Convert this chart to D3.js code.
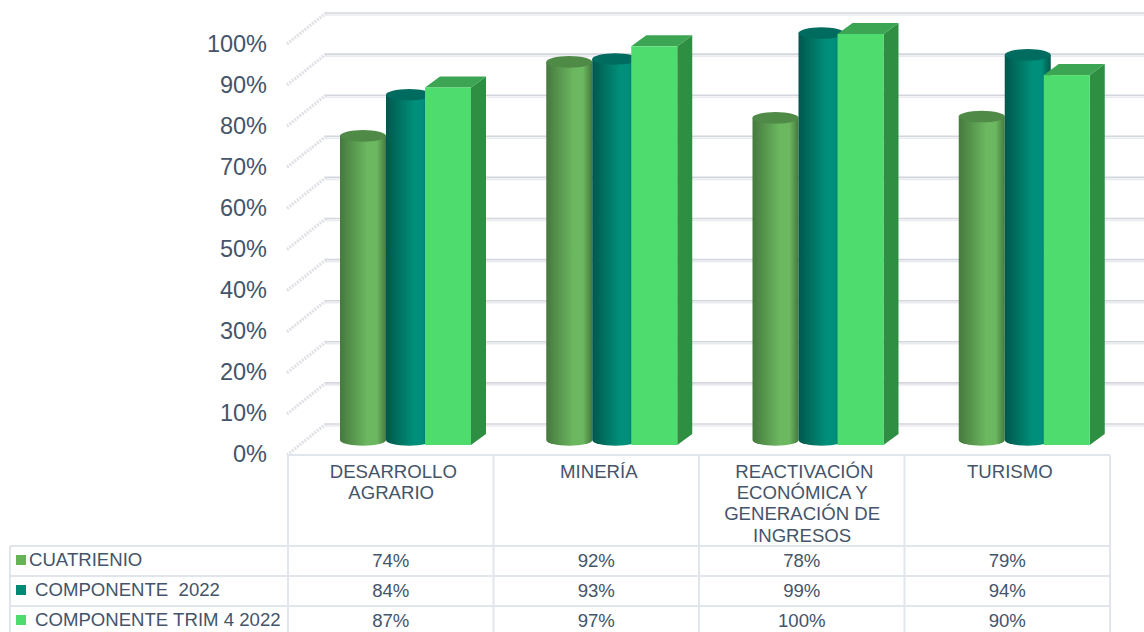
<!DOCTYPE html>
<html><head><meta charset="utf-8">
<script src="https://cdnjs.cloudflare.com/ajax/libs/d3/7.8.5/d3.min.js"></script>
<style>html,body{margin:0;padding:0;background:#fff;overflow:hidden}svg{display:block}text{font-family:"Liberation Sans",Arial,sans-serif;fill:#44546a;white-space:pre}</style>
</head><body><svg id="c" width="1144" height="632"></svg>
<script>
const categories = ["DESARROLLO AGRARIO","MINERÍA","REACTIVACIÓN ECONÓMICA Y GENERACIÓN DE INGRESOS","TURISMO"];
const categoryLines = [["DESARROLLO","AGRARIO"],["MINERÍA"],["REACTIVACIÓN","ECONÓMICA Y","GENERACIÓN DE","INGRESOS"],["TURISMO"]];
const seriesNames = ["CUATRIENIO","COMPONENTE  2022","COMPONENTE TRIM 4 2022"];
const cuatrienio = [74,92,78.4,78.7];
const componente2022 = [84,92.7,99,93.7];
const componenteTrim4 = [87,97,100,90];
const tickValues = [0,10,20,30,40,50,60,70,80,90,100];

const svg = d3.select("#c");
const defs = svg.append("defs");
function grad(id, edge, mid){
  const g = defs.append("linearGradient").attr("id",id).attr("x1",0).attr("x2",1).attr("y1",0).attr("y2",0);
  [[0,edge],[.6,mid],[.8,mid],[1,edge]].forEach(s=>g.append("stop").attr("offset",s[0]).attr("stop-color",s[1]));
}
grad("gGreen","#45793e","#6cb860");
grad("gTeal","#00574c","#008f7a");
const blur = (id,s)=>defs.append("filter").attr("id",id).attr("x","-10%").attr("y","-10%").attr("width","120%").attr("height","120%")
  .append("feGaussianBlur").attr("stdDeviation",s);
blur("soft",0.7);
blur("softer",0.45);

const x = d3.scaleBand().domain(categories).range([288,1113]);
const xTable = d3.scaleBand().domain(categories).range([288,1110]);
const yFront = d3.scaleLinear().domain([0,100]).range([445,34]);
const yCyl = d3.scaleLinear().domain([0,100]).range([440,29]);
const yWall = d3.scaleLinear().domain([0,100]).range([425,14]);
const yLabel = d3.scaleLinear().domain([0,100]).range([454,44]);
const lineCol = "#e1e5ec";
const pct = v => d3.format(".0f")(v)+"%";

// walls
const wall = svg.append("g").attr("filter","url(#soft)");
const diag = svg.append("g").attr("filter","url(#softer)");
tickValues.forEach(t=>{
  const y = yWall(t);
  wall.append("line").attr("x1",325).attr("x2",1144).attr("y1",y-1).attr("y2",y-1).attr("stroke","#d3d6dd").attr("stroke-width",1.6);
  wall.append("line").attr("x1",325).attr("x2",1144).attr("y1",y+1).attr("y2",y+1).attr("stroke","#e9ebf0").attr("stroke-width",1.6);
  diag.append("line").attr("x1",287).attr("x2",326).attr("y1",y+30).attr("y2",y-1).attr("stroke","#dfe1e6").attr("stroke-width",3.2).attr("stroke-dasharray","2 1.2");
});

// axis labels
const axis = d3.axisLeft(yLabel).tickValues(tickValues).tickSize(0).tickPadding(0).tickFormat(d=>d+"%");
const ag = svg.append("g").attr("transform","translate(267,0)").call(axis);
ag.select(".domain").remove();
ag.selectAll("text").attr("font-size",23.5).style("font-family",'"Liberation Sans",Arial,sans-serif').attr("fill","#44546a");

// table
const rowY = d3.scaleBand().domain(seriesNames).range([546,636]);
const t = svg.append("g");
const edges = categories.map(c=>xTable(c)).concat(xTable.range()[1]);
edges.forEach(e=>t.append("line").attr("x1",e).attr("x2",e).attr("y1",455).attr("y2",632).attr("stroke",lineCol).attr("stroke-width",2));
t.append("line").attr("x1",10).attr("x2",10).attr("y1",546).attr("y2",632).attr("stroke",lineCol).attr("stroke-width",2);
t.append("line").attr("x1",288).attr("x2",1110).attr("y1",455).attr("y2",455).attr("stroke",lineCol).attr("stroke-width",2);
seriesNames.forEach(s=>t.append("line").attr("x1",10).attr("x2",1110).attr("y1",rowY(s)).attr("y2",rowY(s)).attr("stroke",lineCol).attr("stroke-width",2));

// bars
const marks = svg.append("g").attr("filter","url(#soft)");
function cyl(cx, v, fill, topFill){
  const w=46, rx=w/2, ry=5.8, yt=yCyl(v), yb=yCyl(0);
  marks.append("path").attr("d",`M${cx},${yt}V${yb}A${rx},${ry} 0 0 0 ${cx+w},${yb}V${yt}Z`).attr("fill",fill);
  marks.append("ellipse").attr("cx",cx+rx).attr("cy",yt).attr("rx",rx).attr("ry",ry).attr("fill",topFill);
}
function box(bx, v){
  const w=46, dx=15, dy=11, yt=yFront(v), yb=yFront(0);
  marks.append("path").attr("d",`M${bx+w},${yt}l${dx},${-dy}V${yb-dy}l${-dx},${dy}Z`).attr("fill","#2f8f43");
  marks.append("path").attr("d",`M${bx},${yt}l${dx},${-dy}h${w}l${-dx},${dy}Z`).attr("fill","#3aa552");
  marks.append("rect").attr("x",bx).attr("y",yt).attr("width",w).attr("height",yb-yt).attr("fill","#4fdc6e");
}
categories.forEach((c,i)=>{
  const b = x(c);
  cyl(b+52, cuatrienio[i], "url(#gGreen)", "#4f8a47");
  cyl(b+98, componente2022[i], "url(#gTeal)", "#006c5f");
  box(b+137, componenteTrim4[i]);
});

// category labels
const tf = 18.6;
categories.forEach((c,i)=>{
  categoryLines[i].forEach((ln,j)=>{
    t.append("text").attr("x",xTable(c)+xTable.bandwidth()/2+(j===0?2.6:0.4)).attr("y",471+j*21.4).attr("dy","0.35em")
      .attr("text-anchor","middle").attr("font-size",tf).text(ln);
  });
});
// table rows
const legendColors = ["#66b257","#008a76","#4fdc6e"];
const legendX = [29,35,35];
const rows = [cuatrienio,componente2022,componenteTrim4];
seriesNames.forEach((s,r)=>{
  const yc = rowY(s)+14;
  t.append("rect").attr("x",16).attr("y",yc-5).attr("width",10).attr("height",10).attr("fill",legendColors[r]);
  t.append("text").attr("x",legendX[r]).attr("y",yc-1).attr("dy","0.35em").attr("font-size",tf).text(s);
  categories.forEach((c,i)=>{
    t.append("text").attr("x",xTable(c)+xTable.bandwidth()/2).attr("y",yc+0.5).attr("dy","0.35em")
      .attr("text-anchor","middle").attr("font-size",tf).text(pct(rows[r][i]));
  });
});
</script></body></html>
